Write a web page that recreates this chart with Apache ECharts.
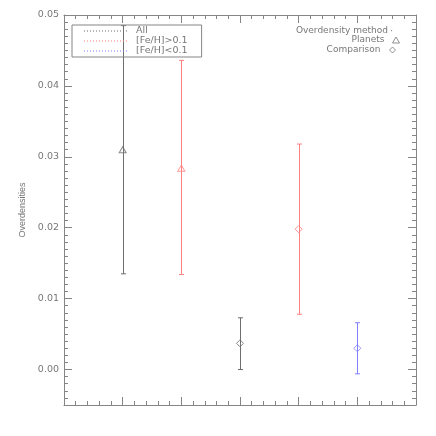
<!DOCTYPE html>
<html>
<head>
<meta charset="utf-8">
<script src="https://cdn.jsdelivr.net/npm/echarts@6/dist/echarts.min.js"></script>
<style>
html,body{margin:0;padding:0;background:#fff}
#chart{width:436px;height:436px}
</style>
</head>
<body>
<div id="chart"></div>
<script>
// samples (legend box, colours)
var samples = ['All', '[Fe/H]>0.1', '[Fe/H]<0.1'];
var sampleColors = ['#6e6e6e', '#ff8080', '#8080ff'];
// methods (symbols)
var methods = ['Planets', 'Comparison'];
var methodSymbols = ['triangle', 'diamond'];

// one entry per point
var xPos = [1, 2, 3, 4, 5];
var pointSample = [0, 1, 0, 1, 2];
var pointMethod = [0, 0, 1, 1, 1];
var values = [0.0310, 0.0284, 0.0037, 0.0198, 0.0030];
var lower = [0.0135, 0.0134, 0.0000, 0.0078, -0.0006];
var upper = [0.0485, 0.0436, 0.0073, 0.0318, 0.0066];

var yMin = -0.005, yMax = 0.05;
var xMin = 0, xMax = 6;

var axisColor = '#858585';
var textColor = '#777777';
var font = 'DejaVu Sans';

var chart = echarts.init(document.getElementById('chart'));

function renderErrorBar(params, api) {
    var x = api.value(0);
    var pLo = api.coord([x, api.value(2)]);
    var pHi = api.coord([x, api.value(3)]);
    var px = Math.round(pLo[0]) + 0.5;
    var w = 2.5;
    var style = {stroke: api.visual('color'), lineWidth: 1, fill: null};
    return {
        type: 'group',
        children: [
            {type: 'line', shape: {x1: px, y1: pLo[1], x2: px, y2: pHi[1]}, style: style},
            {type: 'line', shape: {x1: px - w, y1: pLo[1], x2: px + w, y2: pLo[1]}, style: style},
            {type: 'line', shape: {x1: px - w, y1: pHi[1], x2: px + w, y2: pHi[1]}, style: style}
        ]
    };
}

var series = [];
samples.forEach(function(name, s){
    var data = [];
    for (var i = 0; i < xPos.length; i++) {
        if (pointSample[i] == s) data.push([xPos[i], values[i], lower[i], upper[i]]);
    }
    series.push({
        type: 'custom',
        name: name,
        renderItem: renderErrorBar,
        itemStyle: {color: sampleColors[s]},
        encode: {x: 0, y: 1},
        data: data,
        z: 2
    });
});
methods.forEach(function(name, m){
    var data = [];
    for (var i = 0; i < xPos.length; i++) {
        if (pointMethod[i] == m) {
            data.push({value: [xPos[i], values[i]], itemStyle: {borderColor: sampleColors[pointSample[i]]}});
        }
    }
    series.push({
        type: 'scatter',
        name: name,
        symbol: methodSymbols[m],
        symbolSize: m == 0 ? [7, 6] : [7, 7],
        itemStyle: {color: 'rgba(0,0,0,0)', borderColor: sampleColors[0], borderWidth: 1},
        data: data,
        z: 3
    });
});

// dotted line icon for the sample legend
var dots = '';
for (var i = 0; i < 15; i++) dots += 'M' + (3 * i) + ' 0h1v1h-1z';

function xAxis(pos) {
    return {
        type: 'value', position: pos, min: xMin, max: xMax, interval: 1,
        axisLine: {show: true, onZero: false, lineStyle: {color: axisColor}},
        axisTick: {inside: true, length: 8, lineStyle: {color: axisColor}},
        minorTick: {show: true, splitNumber: 5, length: 4, lineStyle: {color: axisColor}},
        axisLabel: {show: false},
        splitLine: {show: false}
    };
}
function yAxis(pos) {
    var ax = {
        type: 'value', position: pos, min: yMin, max: yMax, splitNumber: 5,
        axisLine: {show: true, onZero: false, lineStyle: {color: axisColor}},
        axisTick: {inside: true, length: 8, lineStyle: {color: axisColor}},
        minorTick: {show: true, splitNumber: 10, length: 4, lineStyle: {color: axisColor}},
        axisLabel: {show: false},
        splitLine: {show: false}
    };
    if (pos == 'left') {
        ax.axisLabel = {
            show: true, margin: 5, color: textColor, fontSize: 9.5, fontFamily: font,
            formatter: function(v){ return v < -1e-9 ? '' : v.toFixed(2); }
        };
        ax.name = 'Overdensities';
        ax.nameLocation = 'middle';
        ax.nameGap = 32;
        ax.nameTextStyle = {color: textColor, fontSize: 9, fontFamily: 'Liberation Sans'};
    }
    return ax;
}

var option = {
    animation: false,
    grid: {left: 64, right: 20, top: 15, bottom: 31, outerBoundsMode: 'none', containLabel: false},
    xAxis: [xAxis('bottom'), xAxis('top')],
    yAxis: [yAxis('left'), yAxis('right')],
    legend: [
        {
            data: samples.map(function(n, i){
                return {name: n, icon: 'path://' + dots, itemStyle: {color: sampleColors[i]}};
            }),
            orient: 'vertical', left: 72, top: 25,
            itemWidth: 45, itemHeight: 1, itemGap: 0,
            padding: [1, 14, 1, 12],
            borderColor: axisColor, borderWidth: 1,
            selectedMode: false,
            textStyle: {fontSize: 9.5, color: textColor, fontFamily: font, lineHeight: 10, padding: [0, 0, 0, 3]}
        },
        {
            data: [{name: methods[0], icon: methodSymbols[0]}],
            right: 36, top: 35, align: 'right', padding: 0,
            itemWidth: 7, itemHeight: 6, selectedMode: false,
            itemStyle: {color: 'rgba(0,0,0,0)', borderColor: textColor, borderWidth: 1},
            textStyle: {fontSize: 9, color: textColor, fontFamily: font, lineHeight: 10, padding: [0, 3, 0, 0]}
        },
        {
            data: [{name: methods[1], icon: methodSymbols[1]}],
            right: 40, top: 45, align: 'right', padding: 0,
            itemWidth: 6, itemHeight: 6, selectedMode: false,
            itemStyle: {color: 'rgba(0,0,0,0)', borderColor: textColor, borderWidth: 1},
            textStyle: {fontSize: 9, color: textColor, fontFamily: font, lineHeight: 10, padding: [0, 4, 0, 0]}
        }
    ],
    graphic: [
        {type: 'text', right: 48, top: 26, style: {text: 'Overdensity method', fill: textColor, font: '9px "DejaVu Sans"'}},
        {type: 'circle', left: 391, top: 30, shape: {r: 0.6}, style: {fill: textColor}}
    ],
    series: series
};
chart.setOption(option);
</script>
</body>
</html>
